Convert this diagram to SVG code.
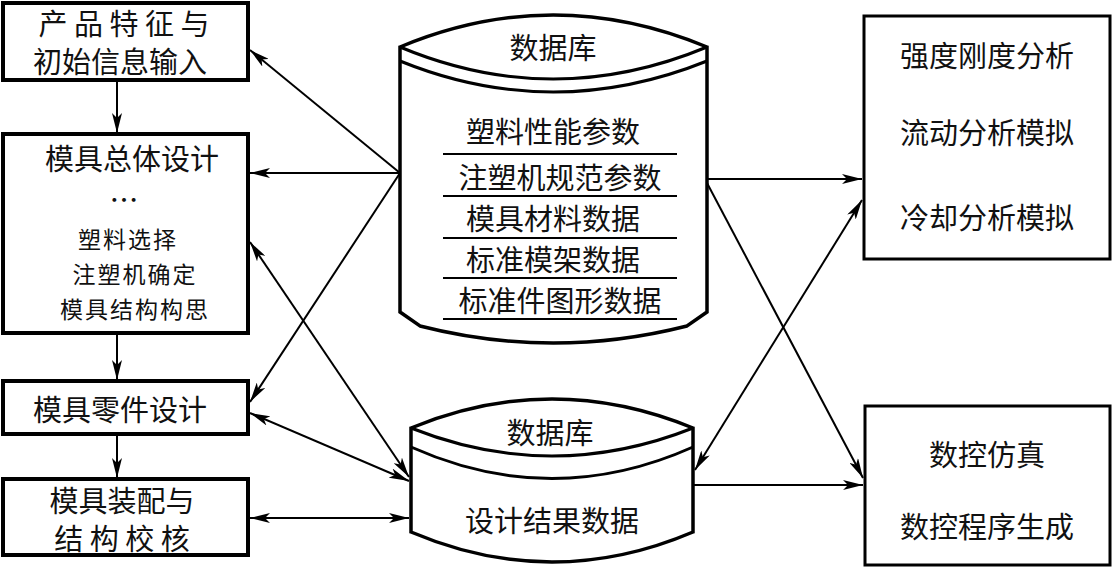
<svg xmlns="http://www.w3.org/2000/svg" width="1113" height="568" viewBox="0 0 1113 568">
<style>
.b{fill:#fff;stroke:#000;stroke-width:4}
.b2{fill:#fff;stroke:#000;stroke-width:3}
.c{fill:#fff;stroke:#000;stroke-width:3.5}
.l{fill:none;stroke:#000;stroke-width:3}
.t{font-family:"Noto Sans CJK SC",sans-serif;font-size:29px;text-anchor:middle;fill:#111;dominant-baseline:central}
.s{font-size:23px}
.k{stroke:#000;stroke-width:2;fill:none}
</style>
<defs>
<marker id="a" viewBox="0 0 20 10" refX="20" refY="5" markerWidth="20" markerHeight="10" markerUnits="userSpaceOnUse" orient="auto-start-reverse">
<path d="M0,0 L20,5 L0,10 L5,5 Z" fill="#000"/>
</marker>
</defs>
<rect width="1113" height="568" fill="#fff"/>
<g id="n1"><rect class="b" x="3" y="3" width="245" height="77"/>
<text class="t" x="124" y="22" font-size="26">产 品 特 征 与</text><text class="t" x="120" y="60" font-size="27">初始信息输入</text></g>
<g id="n2"><rect class="b" x="3" y="134" width="245" height="199"/>
<text class="t" x="132" y="157">模具总体设计</text><text class="t" x="124" y="198">…</text>
<text class="t s" x="128" y="238" letter-spacing="2">塑料选择</text><text class="t s" x="135" y="273" letter-spacing="2">注塑机确定</text><text class="t s" x="135" y="308" letter-spacing="2">模具结构构思</text></g>
<g id="n3"><rect class="b" x="3" y="381" width="245" height="53"/>
<text class="t" x="120" y="408">模具零件设计</text></g>
<g id="n4"><rect class="b" x="3" y="479" width="245" height="76"/>
<text class="t" x="122" y="499" font-size="27">模具装配与</text><text class="t" x="122" y="537" font-size="27">结 构 校 核</text></g>
<g id="db1">
<path class="c" d="M400,47 L400,312 L420,326 Q553,360 687,326 L707,312 L707,47 Q553,-17 400,47 Z"/>
<path class="l" d="M400,47 Q553,111 707,47 M400,61 Q553,123 707,61"/>
<text class="t" x="553" y="46" font-size="26">数据库</text>
<text class="t" x="553" y="130">塑料性能参数</text>
<text class="t" x="560" y="176">注塑机规范参数</text>
<text class="t" x="553" y="217">模具材料数据</text>
<text class="t" x="553" y="258">标准模架数据</text>
<text class="t" x="560" y="299">标准件图形数据</text>
<path class="k" d="M443,154 H677 M443,196 H677 M443,238 H677 M443,278 H677 M443,319 H677"/>
</g>
<g id="db2">
<path class="c" d="M411,428 L411,532 Q552,592 693,532 L693,428 Q552,370 411,428 Z"/>
<path class="l" d="M411,428 Q552,484 693,428 M411,447 Q552,510 693,447"/>
<text class="t" x="550" y="431" font-size="26">数据库</text>
<text class="t" x="552" y="519">设计结果数据</text>
</g>
<g id="n5"><rect class="b2" x="864" y="16" width="246" height="243"/>
<text class="t" x="987" y="54">强度刚度分析</text><text class="t" x="987" y="131">流动分析模拟</text><text class="t" x="987" y="216">冷却分析模拟</text></g>
<g id="n6"><rect class="b2" x="865" y="406" width="245" height="159"/>
<text class="t" x="987" y="453">数控仿真</text><text class="t" x="987" y="525">数控程序生成</text></g>
<g id="connectors" class="k">
<line x1="117" y1="80" x2="117" y2="133" marker-end="url(#a)"/>
<line x1="117" y1="333" x2="117" y2="380" marker-end="url(#a)"/>
<line x1="117" y1="434" x2="117" y2="478" marker-end="url(#a)"/>
<line x1="400" y1="173" x2="250" y2="50" marker-end="url(#a)"/>
<line x1="400" y1="173" x2="250" y2="173" marker-end="url(#a)"/>
<line x1="400" y1="173" x2="250" y2="402" marker-end="url(#a)"/>
<line x1="250" y1="242" x2="409" y2="477" marker-start="url(#a)" marker-end="url(#a)"/>
<line x1="250" y1="413" x2="409" y2="481" marker-start="url(#a)" marker-end="url(#a)"/>
<line x1="250" y1="518" x2="409" y2="518" marker-start="url(#a)" marker-end="url(#a)"/>
<line x1="707" y1="179" x2="862" y2="179" marker-end="url(#a)"/>
<line x1="707" y1="183" x2="863" y2="478" marker-end="url(#a)"/>
<line x1="862" y1="200" x2="695" y2="470" marker-start="url(#a)" marker-end="url(#a)"/>
<line x1="693" y1="485" x2="863" y2="485" marker-end="url(#a)"/>
</g>
</svg>
